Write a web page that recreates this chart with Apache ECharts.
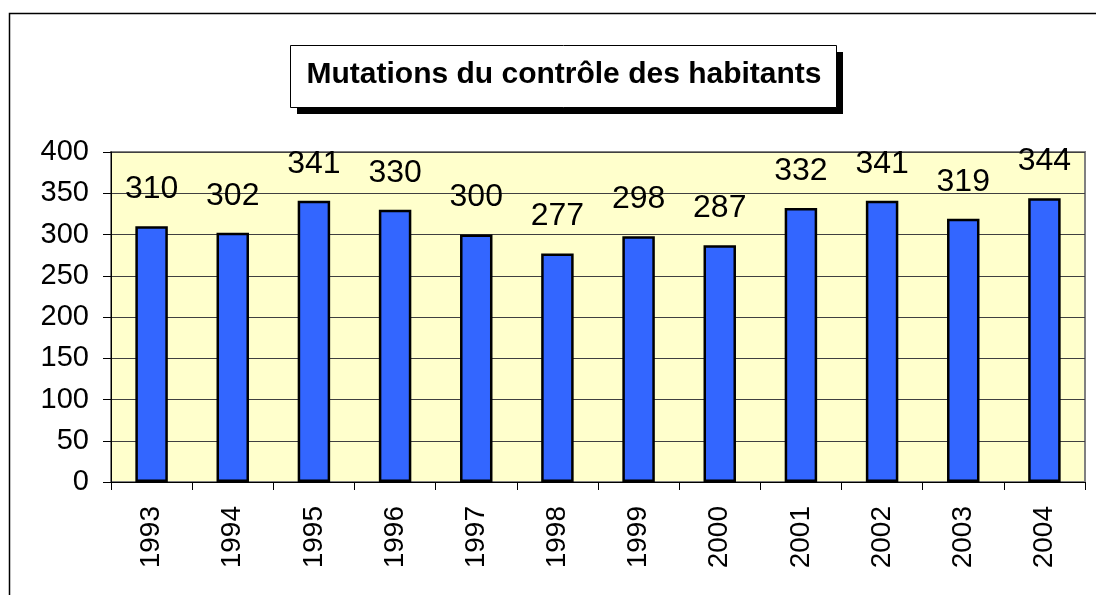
<!DOCTYPE html>
<html>
<head>
<meta charset="utf-8">
<script src="https://cdn.jsdelivr.net/npm/echarts@6/dist/echarts.min.js"></script>
<style>
html,body{margin:0;padding:0;background:#fff;}
#chart{width:1096px;height:595px;}
</style>
</head>
<body>
<div id="chart"></div>
<script>
const titleText = 'Mutations du contrôle des habitants';
const categories = ['1993','1994','1995','1996','1997','1998','1999','2000','2001','2002','2003','2004'];
const values = [310, 302, 341, 330, 300, 277, 298, 287, 332, 341, 319, 344];
const yTicks = { min: 0, max: 400, interval: 50 };

const chart = echarts.init(document.getElementById('chart'), null, { renderer: 'canvas' });
const FONT = '"Liberation Sans", Arial, sans-serif';

chart.setOption({
  animation: false,
  backgroundColor: '#ffffff',
  grid: { left: 111, right: 11, top: 152, bottom: 113, show: true, backgroundColor: '#FFFFCC', borderColor: '#808080', borderWidth: 2 },
  graphic: [
    { type: 'rect', shape: { x: 9.5, y: 13.5, width: 1200, height: 700 }, style: { fill: 'none', stroke: '#000', lineWidth: 1.5 }, silent: true, z: 0 },
    { type: 'rect', shape: { x: 297, y: 52, width: 546, height: 62 }, style: { fill: '#000' }, z: 10 },
    { type: 'rect', shape: { x: 290.5, y: 45.5, width: 546, height: 62 }, style: { fill: '#fff', stroke: '#000', lineWidth: 1 }, z: 11 },
    { type: 'text', x: 564, y: 75, style: { text: titleText, font: 'bold 30px ' + FONT, fill: '#000', align: 'center', verticalAlign: 'middle' }, z: 12 }
  ],
  xAxis: {
    type: 'category',
    data: categories,
    axisLine: { show: true, lineStyle: { color: '#000', width: 1 } },
    axisTick: { show: true, length: 8, inside: false, lineStyle: { color: '#000' } },
    axisLabel: { rotate: 90, margin: 24, fontSize: 28, fontFamily: FONT, color: '#000' },
    splitLine: { show: false }
  },
  yAxis: {
    type: 'value',
    min: yTicks.min, max: yTicks.max, interval: yTicks.interval,
    axisLine: { show: true, lineStyle: { color: '#000', width: 1 } },
    axisTick: { show: true, length: 8, lineStyle: { color: '#000' } },
    axisLabel: { margin: 22, fontSize: 29, fontFamily: FONT, color: '#000' },
    splitLine: { show: true, lineStyle: { color: '#404040', width: 1 } }
  },
  series: [{
    type: 'bar',
    data: values,
    barWidth: '40%',
    itemStyle: { color: '#3366FF', borderColor: '#000', borderWidth: 2.5 },
    label: { show: true, position: 'top', distance: 21, fontSize: 32, fontFamily: FONT, color: '#000' }
  }]
});
</script>
</body>
</html>
